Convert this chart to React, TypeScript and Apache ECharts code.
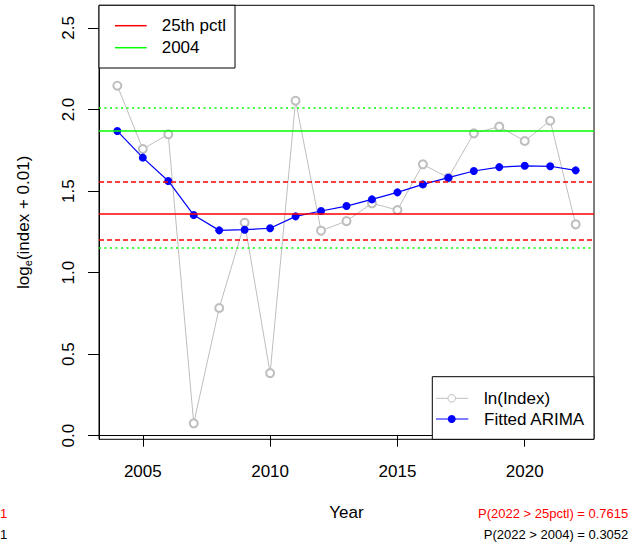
import React, { useEffect, useRef } from "react";
import * as echarts from "echarts";

const years = [2004, 2005, 2006, 2007, 2008, 2009, 2010, 2011, 2012, 2013, 2014, 2015, 2016, 2017, 2018, 2019, 2020, 2021, 2022];
const lnIndex = [2.146, 1.758, 1.848, 0.076, 0.783, 1.306, 0.384, 2.054, 1.257, 1.316, 1.425, 1.384, 1.664, 1.582, 1.854, 1.895, 1.807, 1.931, 1.296];
const fitted = [1.868, 1.705, 1.562, 1.353, 1.259, 1.263, 1.272, 1.345, 1.378, 1.408, 1.449, 1.492, 1.541, 1.582, 1.623, 1.647, 1.655, 1.652, 1.627];

const pctl25 = 1.365;
const pctl25Band = [1.198, 1.556];
const ref2004 = 1.868;
const ref2004Band = [1.149, 2.011];

const xTicks = [2005, 2010, 2015, 2020];
const yTicks = [0, 0.5, 1.0, 1.5, 2.0, 2.5];

const probPctl = "P(2022 > 25pctl) = 0.7615";
const prob2004 = "P(2022 > 2004) = 0.3052";

const FONT = "'Liberation Sans', Arial, Helvetica, sans-serif";

export default function App() {
  const ref = useRef<HTMLDivElement>(null);
  useEffect(() => {
    if (!ref.current) return;
    const chart = echarts.init(ref.current, null, { renderer: "svg" });
    const gray = "#bebebe";
    const option: any = {
      animation: false,
      textStyle: { fontFamily: FONT },
      grid: {
        left: 99,
        top: 5.3,
        width: 495,
        height: 434,
        show: true,
        borderColor: "#000",
        borderWidth: 1,
        backgroundColor: "transparent",
      },
      xAxis: {
        type: "value",
        min: 2003.28,
        max: 2022.72,
        name: "Year",
        nameLocation: "middle",
        nameGap: 65,
        nameTextStyle: { fontSize: 17, color: "#000", fontFamily: FONT },
        axisLine: { show: true, lineStyle: { color: "#000", width: 1 } },
        axisTick: { show: true, customValues: xTicks, length: 11, lineStyle: { color: "#000", width: 1 } },
        axisLabel: {
          customValues: xTicks,
          fontSize: 17,
          color: "#000",
          margin: 24,
          fontFamily: FONT,
          formatter: (v: number) => String(v),
        },
        splitLine: { show: false },
      },
      yAxis: {
        type: "value",
        min: -0.022,
        max: 2.639,
        name: "log{sub|e}(index + 0.01)",
        nameLocation: "middle",
        nameRotate: 90,
        nameGap: 66,
        nameTextStyle: {
          fontSize: 17,
          color: "#000",
          fontFamily: FONT,
          rich: {
            sub: { fontSize: 11, color: "#000", fontFamily: FONT, padding: [8, 0, 0, 0] },
          },
        },
        axisLine: { show: true, lineStyle: { color: "#000", width: 1 } },
        axisTick: { show: true, customValues: yTicks, length: 11, lineStyle: { color: "#000", width: 1 } },
        axisLabel: {
          customValues: yTicks,
          rotate: 90,
          fontSize: 17,
          color: "#000",
          margin: 22,
          fontFamily: FONT,
          formatter: (v: number) => v.toFixed(1),
        },
        splitLine: { show: false },
      },
      series: [
        {
          name: "ln(Index)",
          type: "line",
          data: years.map((y, i) => [y, lnIndex[i]]),
          symbol: "emptyCircle",
          symbolSize: 8,
          lineStyle: { color: gray, width: 1 },
          itemStyle: { color: gray, borderColor: gray, borderWidth: 1 },
          z: 2,
        },
        {
          name: "refs",
          type: "line",
          data: [],
          z: 3,
          markLine: {
            silent: true,
            symbol: ["none", "none"],
            label: { show: false },
            data: [
              { yAxis: ref2004Band[1], lineStyle: { color: "#00ff00", width: 1.5, type: [2, 3.5] } },
              { yAxis: ref2004Band[0], lineStyle: { color: "#00ff00", width: 1.5, type: [2, 3.5] } },
              { yAxis: ref2004, lineStyle: { color: "#00ff00", width: 1.5, type: "solid" } },
              { yAxis: pctl25Band[1], lineStyle: { color: "#ff0000", width: 1.5, type: [5, 3] } },
              { yAxis: pctl25Band[0], lineStyle: { color: "#ff0000", width: 1.5, type: [5, 3] } },
              { yAxis: pctl25, lineStyle: { color: "#ff0000", width: 1.5, type: "solid" } },
            ],
          },
        },
        {
          name: "Fitted ARIMA",
          type: "line",
          data: years.map((y, i) => [y, fitted[i]]),
          symbol: "circle",
          symbolSize: 8,
          lineStyle: { color: "#0000ff", width: 1.2 },
          itemStyle: { color: "#0000ff" },
          z: 4,
        },
      ],
      graphic: [
        // top-left legend
        { type: "rect", shape: { x: 99, y: 5.3, width: 136, height: 62.7 }, style: { fill: "#fff", stroke: "#000", lineWidth: 1 }, z: 10 },
        { type: "line", shape: { x1: 115, y1: 25.7, x2: 146.7, y2: 25.7 }, style: { stroke: "#ff0000", lineWidth: 1.5 }, z: 11 },
        { type: "line", shape: { x1: 115, y1: 47.7, x2: 146.7, y2: 47.7 }, style: { stroke: "#00ff00", lineWidth: 1.5 }, z: 11 },
        { type: "text", x: 161.7, y: 25.7, style: { text: "25th pctl", font: `17px ${FONT}`, fill: "#000", verticalAlign: "middle", align: "left" }, z: 11 },
        { type: "text", x: 161.7, y: 47.7, style: { text: "2004", font: `17px ${FONT}`, fill: "#000", verticalAlign: "middle", align: "left" }, z: 11 },
        // bottom-right legend
        { type: "rect", shape: { x: 432.3, y: 376.7, width: 161.7, height: 62.6 }, style: { fill: "#fff", stroke: "#000", lineWidth: 1 }, z: 10 },
        { type: "line", shape: { x1: 436, y1: 398.3, x2: 447.5, y2: 398.3 }, style: { stroke: gray, lineWidth: 1 }, z: 11 },
        { type: "line", shape: { x1: 456, y1: 398.3, x2: 468.3, y2: 398.3 }, style: { stroke: gray, lineWidth: 1 }, z: 11 },
        { type: "circle", shape: { cx: 451.7, cy: 398.3, r: 3.8 }, style: { fill: "none", stroke: gray, lineWidth: 1 }, z: 11 },
        { type: "line", shape: { x1: 436, y1: 419, x2: 468.3, y2: 419 }, style: { stroke: "#0000ff", lineWidth: 1.2 }, z: 11 },
        { type: "circle", shape: { cx: 451.7, cy: 419, r: 4 }, style: { fill: "#0000ff" }, z: 11 },
        { type: "text", x: 484, y: 398.3, style: { text: "ln(Index)", font: `17px ${FONT}`, fill: "#000", verticalAlign: "middle", align: "left" }, z: 11 },
        { type: "text", x: 484, y: 419, style: { text: "Fitted ARIMA", font: `17px ${FONT}`, fill: "#000", verticalAlign: "middle", align: "left" }, z: 11 },
        // probability notes
        { type: "text", x: 628.3, y: 513.3, style: { text: probPctl, font: `13px ${FONT}`, fill: "#ff0000", align: "right", verticalAlign: "middle" } },
        { type: "text", x: 628.3, y: 534.3, style: { text: prob2004, font: `13px ${FONT}`, fill: "#000", align: "right", verticalAlign: "middle" } },
        { type: "text", x: 0, y: 513.3, style: { text: "1", font: `13px ${FONT}`, fill: "#ff0000", align: "left", verticalAlign: "middle" } },
        { type: "text", x: 0, y: 534.3, style: { text: "1", font: `13px ${FONT}`, fill: "#000", align: "left", verticalAlign: "middle" } },
      ],
    };
    chart.setOption(option);
    return () => chart.dispose();
  }, []);
  return <div ref={ref} style={{ position: "absolute", left: 0, top: 0, width: 639, height: 548, background: "#fff" }} />;
}
